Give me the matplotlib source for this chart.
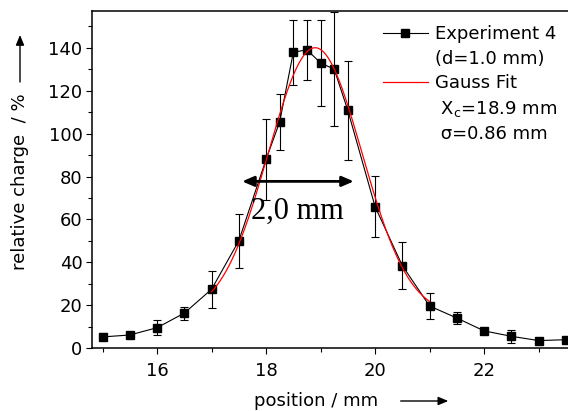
import numpy as np
from matplotlib import pyplot as plt
from matplotlib.patches import FancyArrowPatch
from matplotlib.ticker import MultipleLocator

# measured charge profile, experiment 4 (d = 1.0 mm)
pos = [15, 15.5, 16, 16.5, 17, 17.5, 18, 18.25, 18.5, 18.75, 19, 19.25,
       19.5, 20, 20.5, 21, 21.5, 22, 22.5, 23, 23.5]
charge = [5.3, 6.2, 9.6, 16.4, 27.5, 50.1, 88.0, 105.5, 137.9, 139.0, 132.9,
          130.0, 110.8, 66.0, 38.5, 19.7, 14.1, 8.1, 5.6, 3.6, 4.0]
err = [1.6, 1.0, 3.4, 3.0, 8.7, 12.6, 18.7, 13.0, 15.1, 14.0, 19.9, 26.5,
       23.0, 14.2, 11.0, 6.2, 2.6, 1.0, 3.0, 1.0, 1.0]

# gauss fit parameters
x_c = 18.9      # centre, mm
sigma = 0.86    # width, mm
y0 = 15.5       # offset, %
amp = 124.5     # height above offset, %
fit_range = (17, 21)

# FWHM marker
fwhm_x = (17.56, 19.61)
fwhm_text = '2,0 mm'

plt.rcParams['font.family'] = ['DejaVu Sans']
plt.rcParams['mathtext.default'] = 'regular'

fig = plt.figure(figsize=(5.68, 4.11), dpi=100)
ax = fig.add_axes([91.7 / 568, 1 - 348.3 / 411, 1 - 91.7 / 568, 337.3 / 411])

ax.errorbar(pos, charge, yerr=err, fmt='none', ecolor='black',
            elinewidth=0.8, capsize=2.6, capthick=0.8, zorder=2)
h_exp, = ax.plot(pos, charge, color='black', lw=0.8, marker='s', ms=5.5,
                 mfc='black', mec='black', zorder=3)

xf = np.linspace(fit_range[0], fit_range[1], 300)
yf = y0 + amp * np.exp(-(xf - x_c) ** 2 / (2 * sigma ** 2))
h_fit, = ax.plot(xf, yf, color='red', lw=0.9, zorder=4)

# full width at half maximum
half = y0 + amp / 2
ax.annotate('', xy=(fwhm_x[0], half), xytext=(fwhm_x[1], half),
            arrowprops=dict(arrowstyle='<|-|>,head_length=0.7,head_width=0.3',
                            color='black', lw=2.0, shrinkA=0, shrinkB=0),
            zorder=5)
ax.text(17.73, 60.5, fwhm_text, family='Liberation Serif', fontsize=22,
        ha='left', va='baseline', zorder=5)

ax.set_xlim(14.8, 23.54)
ax.set_ylim(0, 157.1)
ax.xaxis.set_major_locator(MultipleLocator(2))
ax.xaxis.set_minor_locator(MultipleLocator(1))
ax.yaxis.set_major_locator(MultipleLocator(20))
ax.yaxis.set_minor_locator(MultipleLocator(10))
ax.tick_params(which='both', direction='out', width=0.8, labelsize=13)
ax.tick_params(which='major', length=4.2)
ax.tick_params(which='minor', length=3.0)
ax.tick_params(axis='y', pad=2.5)
ax.tick_params(axis='x', pad=6)
ax.spines['right'].set_visible(False)
for s in ['left', 'bottom', 'top']:
    ax.spines[s].set_linewidth(1.1)

# legend: text lines without handles get empty entries
blank = plt.Line2D([], [], color='none')
leg = ax.legend([h_exp, blank, h_fit, blank, blank],
                ['Experiment 4', '(d=1.0 mm)', 'Gauss Fit',
                 ' X$_c$=18.9 mm', ' σ=0.86 mm'],
                loc='upper left', bbox_to_anchor=(0.611, 0.958),
                frameon=False, fontsize=13, handlelength=2.5,
                handletextpad=0.37, labelspacing=0.36, borderpad=0,
                borderaxespad=0)

# axis labels with arrows
fig.text(20 / 568, 1 - 181.5 / 411, 'relative charge  / %', rotation=90,
         ha='center', va='center', fontsize=13)
fig.text(316.5 / 568, 1 - 401 / 411, 'position / mm', ha='center',
         va='center', fontsize=13)
for start, end in [((20 / 568, 1 - 82 / 411), (20 / 568, 1 - 35 / 411)),
                   ((400.7 / 568, 1 - 401 / 411), (448.3 / 568, 1 - 401 / 411))]:
    fig.patches.append(FancyArrowPatch(
        start, end, transform=fig.transFigure,
        arrowstyle='-|>,head_length=6,head_width=2.5',
        color='black', lw=1.0, shrinkA=0, shrinkB=0))

fig.savefig('out.png', dpi=100)
